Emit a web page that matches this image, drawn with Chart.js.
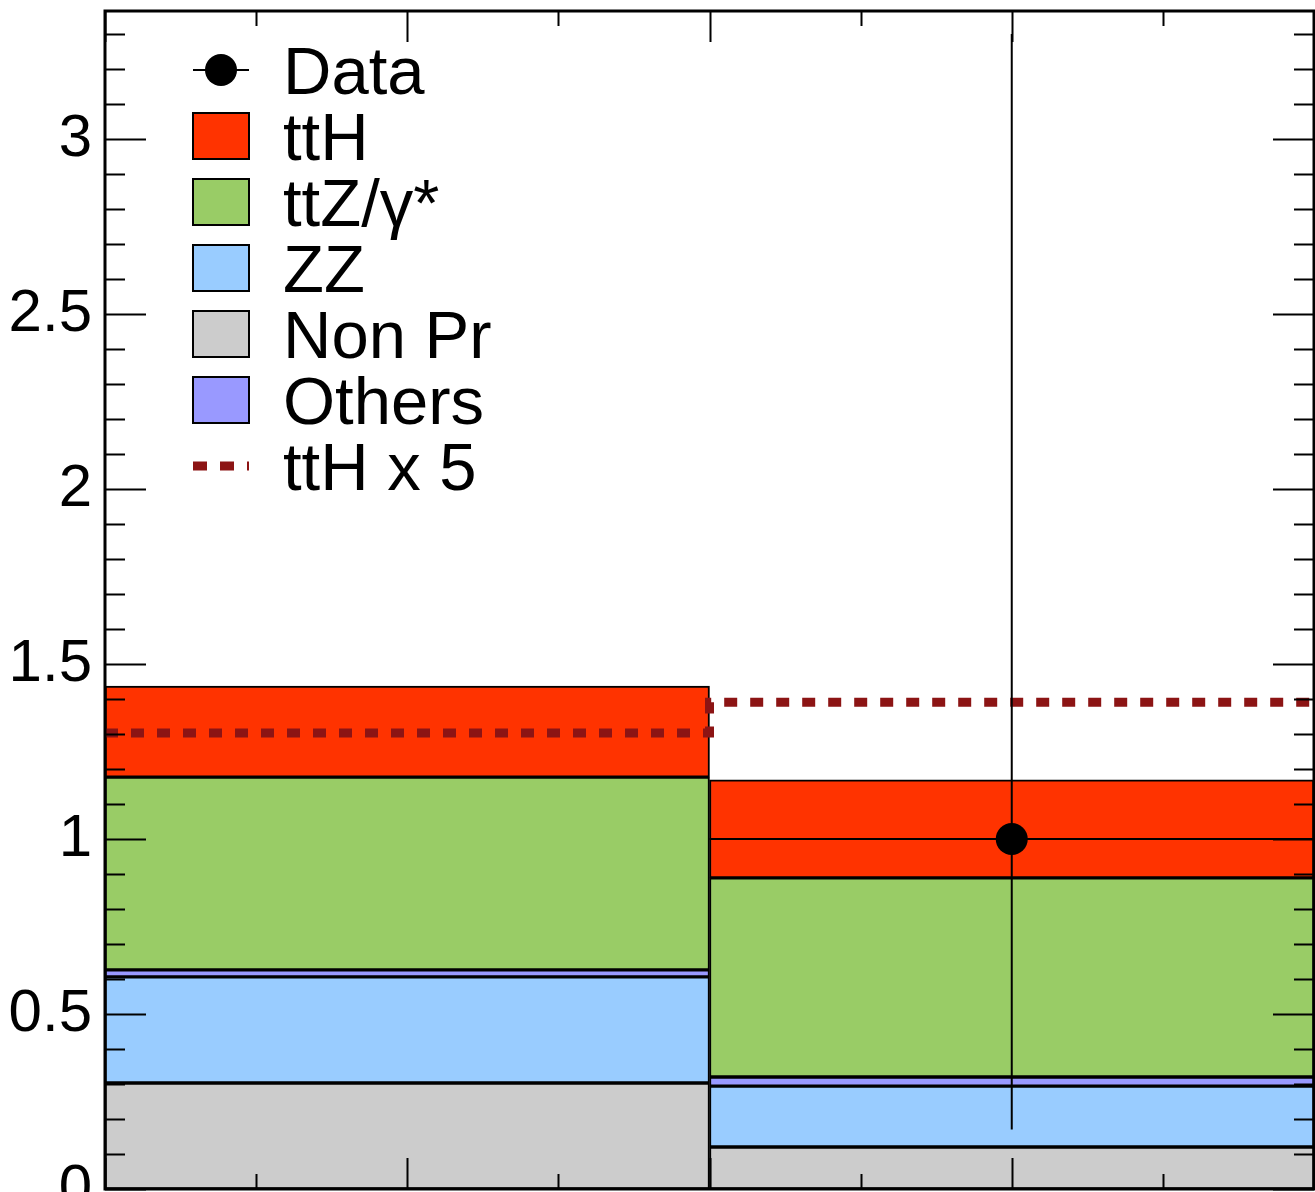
<!DOCTYPE html>
<html lang="en">
<head>
<meta charset="UTF-8">
<title>ttH yields</title>
<script src="https://cdn.jsdelivr.net/npm/chart.js"></script>
<style>
    html, body { margin: 0; padding: 0; background: #fff; }
    canvas { display: block; }
</style>
</head>
<body>
<canvas id="yieldChart" width="1315" height="1192"></canvas>
<script>
// histogram binning
const binEdges = [0, 1, 2];
const binCenters = [0.5, 1.5];

// stacked backgrounds + signal, bottom to top
const nonPrompt = [0.303, 0.120];
const zz = [0.303, 0.174];
const others = [0.020, 0.026];
const ttZ = [0.551, 0.569];
const ttH = [0.260, 0.280];

// signal scaled x5 (dashed overlay)
const ttHx5 = [1.303, 1.391];

// observed data, no entry in the first bin
const dataValues = [null, 1];
const dataErrLow = [null, 0.83];
const dataErrHigh = [null, 2.30];

// axis range
const yMax = 3.366;
const xMinorStep = 0.25;

const FONT = "'Liberation Sans', Arial, Helvetica, sans-serif";
const colors = {
    nonPrompt: '#cccccc',
    zz: '#99ccff',
    others: '#9999ff',
    ttZ: '#99cc66',
    ttH: '#ff3300',
    ttHx5: '#8c1414'
};

function isMajor(v) {
    return Math.abs(v * 2 - Math.round(v * 2)) < 1e-6;
}

// stacked bars (first one sits at the bottom)
const stackDefs = [
    ['Non Pr', nonPrompt, colors.nonPrompt],
    ['ZZ', zz, colors.zz],
    ['Others', others, colors.others],
    ['ttZ/γ*', ttZ, colors.ttZ],
    ['ttH', ttH, colors.ttH]
];
const barSets = stackDefs.map(([label, vals, col]) => ({
    type: 'bar',
    label: label,
    data: binCenters.map((c, i) => ({ x: c, y: vals[i] })),
    backgroundColor: col,
    borderColor: '#000',
    borderWidth: 2,
    borderSkipped: false,
    barPercentage: 1,
    categoryPercentage: 1,
    stack: 'mc',
    order: 3
}));

// ttH x 5 as a step line over the bin edges
const stepPts = binEdges.map((e, i) => ({ x: e, y: ttHx5[Math.min(i, ttHx5.length - 1)] }));

// data error bars
const vErr = [], hErr = [], pts = [];
dataValues.forEach((v, i) => {
    if (v === null) return;
    vErr.push({ x: binCenters[i], y: v - dataErrLow[i] }, { x: binCenters[i], y: v + dataErrHigh[i] }, { x: binCenters[i], y: null });
    hErr.push({ x: binEdges[i], y: v }, { x: binEdges[i + 1], y: v }, { x: binEdges[i + 1], y: null });
    pts.push({ x: binCenters[i], y: v });
});

const datasets = [
    {
        type: 'line', label: 'Data', data: pts, showLine: false,
        pointRadius: 16, pointBackgroundColor: '#000', pointBorderWidth: 0,
        stack: 'pts', order: 0
    },
    {
        type: 'line', label: 'errV', data: vErr, borderColor: '#000', borderWidth: 2,
        pointRadius: 0, spanGaps: false, stack: 'ev', order: 1
    },
    {
        type: 'line', label: 'errH', data: hErr, borderColor: '#000', borderWidth: 2,
        pointRadius: 0, spanGaps: false, stack: 'eh', order: 1
    },
    {
        type: 'line', label: 'ttH x 5', data: stepPts, stepped: 'before',
        borderColor: colors.ttHx5, borderWidth: 9, borderDash: [13, 13], borderCapStyle: 'butt',
        pointRadius: 0, stack: 'x5', order: 2
    }
].concat(barSets);

// legend entries in drawing order
const legendItems = [
    { label: 'Data', kind: 'data' },
    { label: 'ttH', kind: 'box', color: colors.ttH },
    { label: 'ttZ/γ*', kind: 'box', color: colors.ttZ },
    { label: 'ZZ', kind: 'box', color: colors.zz },
    { label: 'Non Pr', kind: 'box', color: colors.nonPrompt },
    { label: 'Others', kind: 'box', color: colors.others },
    { label: 'ttH x 5', kind: 'dash', color: colors.ttHx5 }
];

const frameTicks = {
    id: 'frameTicks',
    afterDatasetsDraw(chart) {
        const { ctx, chartArea: a, scales: { x, y } } = chart;
        ctx.save();
        ctx.strokeStyle = '#000';
        ctx.lineWidth = 2;
        ctx.beginPath();
        y.ticks.forEach(t => {
            const py = Math.round(y.getPixelForValue(t.value)) + 0.5;
            const len = isMajor(t.value) ? 41 : 20;
            ctx.moveTo(a.left, py); ctx.lineTo(a.left + len, py);
            ctx.moveTo(a.right, py); ctx.lineTo(a.right - len, py);
        });
        for (let v = x.min; v <= x.max + 1e-9; v += xMinorStep) {
            const px = Math.round(x.getPixelForValue(v)) + 0.5;
            const len = isMajor(v) ? 31 : 15;
            ctx.moveTo(px, a.top); ctx.lineTo(px, a.top + len);
            ctx.moveTo(px, a.bottom); ctx.lineTo(px, a.bottom - len);
        }
        ctx.stroke();
        ctx.lineWidth = 3;
        ctx.strokeRect(a.left, a.top, a.right - a.left, a.bottom - a.top);
        ctx.restore();
    }
};

const boxLegend = {
    id: 'boxLegend',
    afterDraw(chart) {
        const ctx = chart.ctx;
        const x0 = 193, x1 = 249, textX = 283, y0 = 70, dy = 66;
        ctx.save();
        ctx.font = '67px ' + FONT;
        ctx.textBaseline = 'alphabetic';
        legendItems.forEach((it, i) => {
            const cy = y0 + i * dy;
            if (it.kind === 'data') {
                ctx.strokeStyle = '#000';
                ctx.lineWidth = 2;
                ctx.beginPath();
                ctx.moveTo(x0, cy); ctx.lineTo(x1, cy);
                ctx.stroke();
                ctx.fillStyle = '#000';
                ctx.beginPath();
                ctx.arc((x0 + x1) / 2, cy, 16, 0, Math.PI * 2);
                ctx.fill();
            } else if (it.kind === 'box') {
                ctx.fillStyle = it.color;
                ctx.fillRect(x0, cy - 23, x1 - x0, 46);
                ctx.strokeStyle = '#000';
                ctx.lineWidth = 2;
                ctx.strokeRect(x0, cy - 23, x1 - x0, 46);
            } else {
                ctx.strokeStyle = it.color;
                ctx.lineWidth = 9;
                ctx.setLineDash([14, 13]);
                ctx.beginPath();
                ctx.moveTo(x0, cy); ctx.lineTo(x1, cy);
                ctx.stroke();
                ctx.setLineDash([]);
            }
            ctx.fillStyle = '#000';
            ctx.fillText(it.label, textX, cy + 24);
        });
        ctx.restore();
    }
};

new Chart(document.getElementById('yieldChart').getContext('2d'), {
    type: 'bar',
    data: { datasets: datasets },
    options: {
        responsive: false,
        animation: false,
        layout: { autoPadding: false, padding: { top: 11, right: 1, bottom: 3, left: 0 } },
        plugins: { legend: { display: false }, tooltip: { enabled: false } },
        scales: {
            x: {
                type: 'linear',
                display: false,
                min: binEdges[0],
                max: binEdges[binEdges.length - 1],
                offset: false,
                ticks: { stepSize: 1 }
            },
            y: {
                type: 'linear',
                stacked: true,
                min: 0,
                max: yMax,
                grid: { display: false, drawTicks: false },
                border: { display: false },
                ticks: {
                    stepSize: 0.1,
                    includeBounds: false,
                    autoSkip: false,
                    padding: 13,
                    color: '#000',
                    font: { family: FONT, size: 60 },
                    callback: v => isMajor(v) ? String(Math.round(v * 10) / 10) : ''
                },
                afterFit(scale) {
                    scale.width = 105;
                    scale.paddingTop = 0;
                    scale.paddingBottom = 0;
                }
            }
        }
    },
    plugins: [frameTicks, boxLegend]
});
</script>
</body>
</html>
